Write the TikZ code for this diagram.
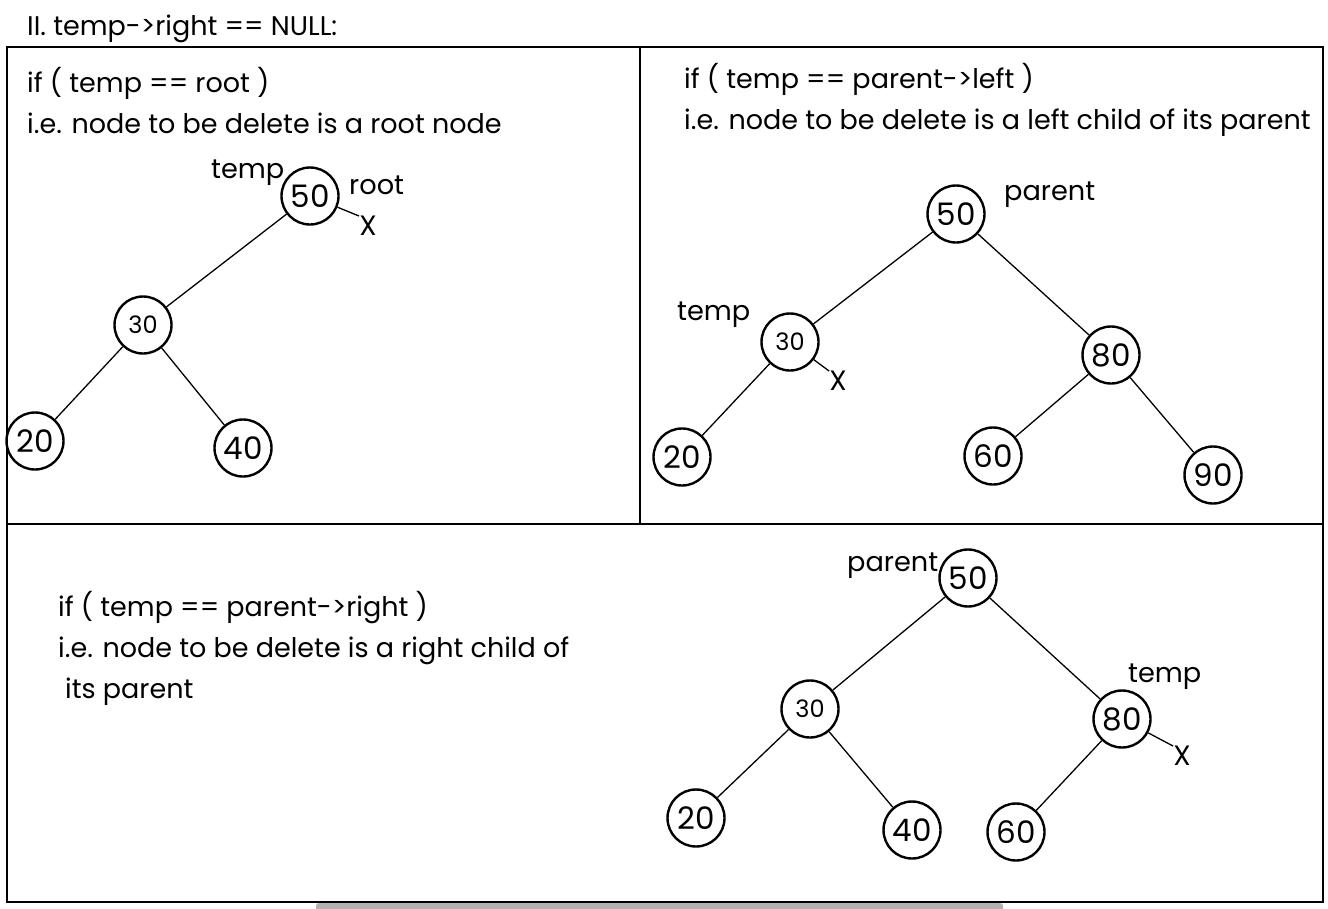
\documentclass[tikz,border=0pt]{standalone}
\usepackage{fontspec}
\setmainfont{Poppins}
\newfontfamily\gfont{Poppins}
\tikzset{
  x={(1pt,0)}, y={(0,-1pt)},
  bst/.style={circle, draw, line width=2.4pt, minimum size=57pt, inner sep=0pt, font=\gfont\fontsize{31}{31}\selectfont},
  bsts/.style={bst, font=\gfont\fontsize{24}{24}\selectfont},
  tedge/.style={line width=1.3pt},
  txt/.style={anchor=base west, inner sep=0pt, font=\gfont\fontsize{27}{30}\selectfont},
  lbl/.style={anchor=base west, inner sep=0pt, font=\gfont\fontsize{27.2}{30}\selectfont},
  xmark/.style={inner sep=0pt, font=\gfont\fontsize{28}{28}\selectfont},
  frame/.style={line width=2.2pt},
  divider/.style={line width=1.2pt}
}
\begin{document}
\begin{tikzpicture}
\useasboundingbox (0,0) rectangle (1328,908);
\fill[white] (0,0) rectangle (1328,908);
% scrollbar artifact
\fill[gray!60, rounded corners=3pt] (316,903) rectangle (1003,912);
% title
\node[txt] (title) at (27,35) {II. temp->right == NULL:};
% frame and dividers
\draw[frame] (7,47) rectangle (1323,902);
\draw[divider] (7,524) -- (1323,524);
\draw[divider] (640,47) -- (640,524);

% ---------- panel 1 ----------
\node[txt] (p1a) at (27,92) {if ( temp == root )};
\node[txt] (p1b) at (27,133) {i.e. node to be delete is a root node};
\node[bst]  (a50) at (310,196) {50};
\node[bsts] (a30) at (143,325) {30};
\node[bst]  (a20) at (35,441) {20};
\node[bst]  (a40) at (243,448) {40};
\node[lbl] (atemp) at (211,178) {temp};
\node[lbl] (aroot) at (349,194) {root};
\node[xmark] (ax) at (368,226) {X};
\draw[tedge] (a50) -- (ax.north west);
\draw[tedge] (a50) -- (a30);
\draw[tedge] (a30) -- (a20);
\draw[tedge] (a30) -- (a40);

% ---------- panel 2 ----------
\node[txt] (p2a) at (684,88) {if ( temp == parent->left )};
\node[txt] (p2b) at (684,129) {i.e. node to be delete is a left child of its parent};
\node[bst]  (b50) at (956,214) {50};
\node[bsts] (b30) at (790,342) {30};
\node[bst]  (b80) at (1111,355) {80};
\node[bst]  (b20) at (682,457) {20};
\node[bst]  (b60) at (993,456) {60};
\node[bst]  (b90) at (1213,475) {90};
\node[lbl] (bparent) at (1004,200) {parent};
\node[lbl] (btemp) at (677,320) {temp};
\node[xmark] (bx) at (838,381) {X};
\draw[tedge] (b50) -- (b30);
\draw[tedge] (b50) -- (b80);
\draw[tedge] (b30) -- (b20);
\draw[tedge] (b80) -- (b60);
\draw[tedge] (b80) -- (b90);
\draw[tedge] (b30) -- (bx.north west);

% ---------- panel 3 ----------
\node[txt] (p3a) at (58,616) {if ( temp == parent->right )};
\node[txt] (p3b) at (58,657) {i.e. node to be delete is a right child of};
\node[txt] (p3c) at (65,698) {its parent};
\node[bst]  (c50) at (968,578) {50};
\node[bsts] (c30) at (810,709) {30};
\node[bst]  (c80) at (1122,719) {80};
\node[bst]  (c20) at (696,818) {20};
\node[bst]  (c40) at (912,830) {40};
\node[bst]  (c60) at (1016,832) {60};
\node[lbl] (cparent) at (847,571) {parent};
\node[lbl] (ctemp) at (1128,682) {temp};
\node[xmark] (cx) at (1182,756) {X};
\draw[tedge] (c50) -- (c30);
\draw[tedge] (c50) -- (c80);
\draw[tedge] (c30) -- (c20);
\draw[tedge] (c30) -- (c40);
\draw[tedge] (c80) -- (c60);
\draw[tedge] (c80) -- (cx.north west);
\end{tikzpicture}
\end{document}
